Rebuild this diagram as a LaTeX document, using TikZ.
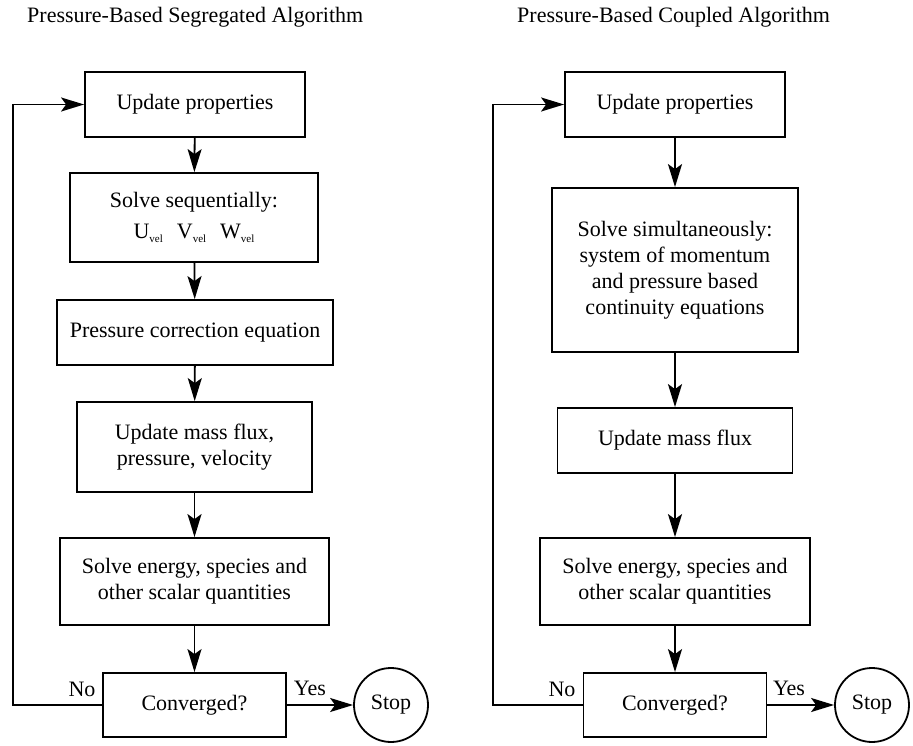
\documentclass[tikz,border=0pt]{standalone}
\usepackage{fontspec}
\setmainfont{Liberation Serif}
\usetikzlibrary{arrows.meta}
\newcommand{\vsub}[1]{#1\raisebox{-4pt}{\fontsize{11}{11}\selectfont vel}}
\tikzset{
  box/.style={draw, line width=1.8pt, rectangle, align=center, inner sep=0pt,
    font=\fontsize{22}{26}\selectfont},
  stopc/.style={draw, line width=1.8pt, circle, minimum size=74pt, inner sep=0pt,
    font=\fontsize{22}{26}\selectfont},
  arr/.style={line width=1.8pt, -{Stealth[length=23pt,width=14pt,inset=5pt]}},
  lbl/.style={font=\fontsize{22}{26}\selectfont, inner sep=0pt},
  ttl/.style={font=\fontsize{22}{26}\selectfont, inner sep=0pt, anchor=west}
}
\begin{document}
\begin{tikzpicture}[x=1pt,y=-1pt]
\useasboundingbox (0,0) rectangle (913,746);
% titles
\node[ttl] (t1) at (27,17) {Pressure-Based Segregated Algorithm};
\node[ttl] (t2) at (517,17) {Pressure-Based Coupled Algorithm};
% left column
\node[box, minimum width=220pt, minimum height=65pt] (lu) at (195,104.5) {Update properties};
\node[box, minimum width=248pt, minimum height=89pt] (ls) at (194,217.5)
  {Solve sequentially:\\[5pt]\vsub{U}\hspace{14pt}\vsub{V}\hspace{14pt}\vsub{W}};
\node[box, minimum width=276pt, minimum height=65pt] (lp) at (195,332.5) {Pressure correction equation};
\node[box, minimum width=235pt, minimum height=90pt] (lm) at (194.5,447) {Update mass flux,\\pressure, velocity};
\node[box, minimum width=269pt, minimum height=87pt] (le) at (194.5,581.5) {Solve energy, species and\\other scalar quantities};
\node[box, minimum width=183pt, minimum height=64pt] (lc) at (194.5,705) {Converged?};
\node[stopc] (lstop) at (391,705) {Stop};
\coordinate (lfb) at (13,705);
\node[lbl] (lno) at (82,689) {No};
\node[lbl] (lyes) at (310,688) {Yes};
\draw[arr] (lu) -- (ls);
\draw[arr] (ls) -- (lp);
\draw[arr] (lp) -- (lm);
\draw[arr] (lm) -- (le);
\draw[arr] (le) -- (lc);
\draw[arr] (lc) -- (lstop);
\draw[arr] (lc.west) -- (lfb) |- (lu.west);
% right column
\node[box, minimum width=220pt, minimum height=65pt] (ru) at (675,104.5) {Update properties};
\node[box, minimum width=246pt, minimum height=164pt] (rs) at (675,270)
  {Solve simultaneously:\\system of momentum\\and pressure based\\continuity equations};
\node[box, minimum width=235pt, minimum height=65pt] (rm) at (675,440.5) {Update mass flux};
\node[box, minimum width=270pt, minimum height=87pt] (re) at (675,581.5) {Solve energy, species and\\other scalar quantities};
\node[box, minimum width=183pt, minimum height=64pt] (rc) at (675,705) {Converged?};
\node[stopc] (rstop) at (872,705) {Stop};
\coordinate (rfb) at (493,705);
\node[lbl] (rno) at (562,689) {No};
\node[lbl] (ryes) at (789,688) {Yes};
\draw[arr] (ru) -- (rs);
\draw[arr] (rs) -- (rm);
\draw[arr] (rm) -- (re);
\draw[arr] (re) -- (rc);
\draw[arr] (rc) -- (rstop);
\draw[arr] (rc.west) -- (rfb) |- (ru.west);
\end{tikzpicture}
\end{document}
